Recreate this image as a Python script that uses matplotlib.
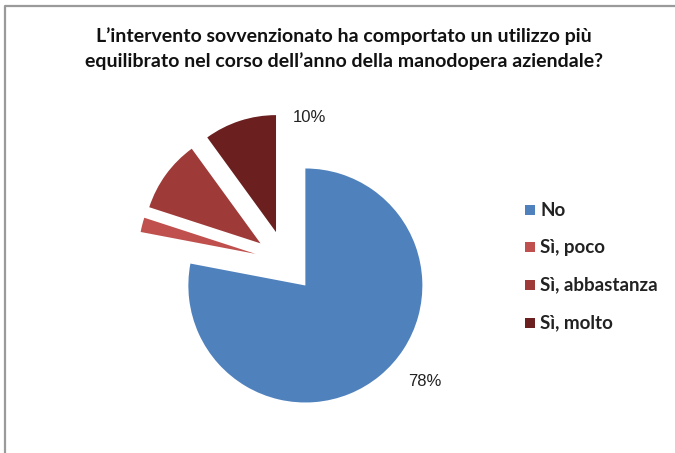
import matplotlib.pyplot as plt
from matplotlib.patches import Rectangle

categories = ["No", "Sì, poco", "Sì, abbastanza", "Sì, molto"]
shares     = [78, 2, 10, 10]
colors     = ["#4F81BD", "#C0504D", "#9E3A38", "#6B1F1F"]
shown_pct  = {"No": "78%", "Sì, molto": "10%"}
title_lines = ["L’intervento sovvenzionato ha comportato un utilizzo più",
               "equilibrato nel corso dell’anno della manodopera aziendale?"]

W, H = 675, 453
CENTER = (285.6, H - 261.6)
RADIUS = 117
EXPLODE = 31

fig = plt.figure(figsize=(W / 100, H / 100), dpi=100)
ax = fig.add_axes([0, 0, 1, 1])

# chart frame (only top/left visible in the reference)
ax.plot([5, 5, W], [0, H - 6, H - 6], color="#9a9a9a", lw=1.6, solid_capstyle="butt")

wedges, _ = ax.pie(shares, colors=colors, startangle=90, counterclock=False,
                   center=CENTER, radius=RADIUS, explode=[EXPLODE] * len(shares),
                   wedgeprops=dict(linewidth=0), frame=True)
ax.set_xlim(0, W); ax.set_ylim(0, H)
ax.set_aspect("equal"); ax.axis("off")

ax.text(293, H - 118, shown_pct["Sì, molto"], fontsize=12, family="Liberation Sans",
        ha="left", va="center", color="#222222")
ax.text(408, H - 381, shown_pct["No"], fontsize=12, family="Liberation Sans",
        ha="left", va="center", color="#222222")

for i, line in enumerate(title_lines):
    ax.text(344, H - 36 - 25 * i, line, ha="center", va="center",
            fontsize=14, fontweight="bold", family="Lato", color="#111111")

# legend
leg_y = [210, 247, 285, 323]
for name, col, y in zip(categories, colors, leg_y):
    ax.add_patch(Rectangle((525, H - y - 5), 10, 10, color=col, lw=0))
    ax.text(540, H - y, name, fontsize=13.5, fontweight="bold", family="Lato",
            ha="left", va="center", color="#222222")

fig.savefig("out.png", dpi=100)
